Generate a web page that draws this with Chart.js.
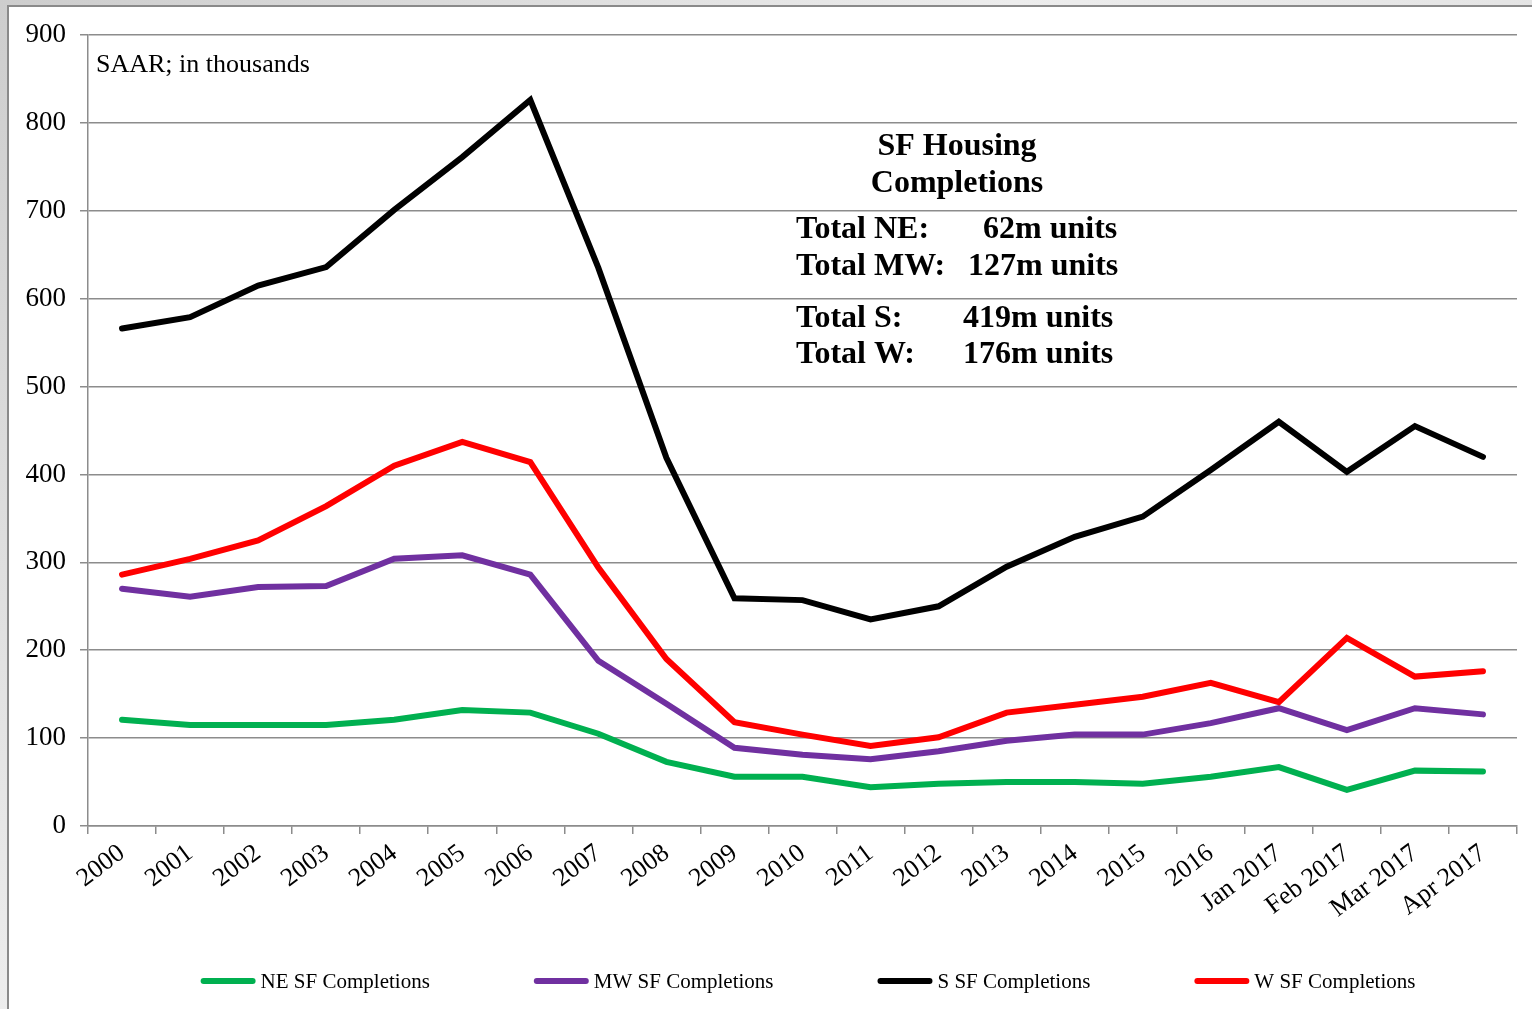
<!DOCTYPE html>
<html>
<head>
<meta charset="utf-8">
<script src="https://cdn.jsdelivr.net/npm/chart.js@4.4.0/dist/chart.umd.min.js"></script>
<style>
  html, body { margin: 0; padding: 0; }
  body {
    width: 1532px;
    height: 1009px;
    position: relative;
    overflow: hidden;
    background: linear-gradient(135deg, #cdcdcd, #ededed 40%, #d4d4d4);
  }
  #panel {
    position: absolute;
    left: 7px;
    top: 5px;
    right: 0;
    bottom: 0;
    background: #fff;
    border-left: 2px solid #8a8a8a;
    border-top: 2px solid #8a8a8a;
  }
  #chart { position: absolute; left: 0; top: 0; }
</style>
</head>
<body>
<div id="panel"></div>
<canvas id="chart" width="1532" height="1009"></canvas>
<script>
const categories = [
  "2000", "2001", "2002", "2003", "2004", "2005", "2006", "2007", "2008",
  "2009", "2010", "2011", "2012", "2013", "2014", "2015", "2016",
  "Jan 2017", "Feb 2017", "Mar 2017", "Apr 2017",
];

const neValues = [121, 115, 115, 115, 121, 132, 129, 105, 73, 56, 56, 44, 48, 50, 50, 48, 56, 67, 41, 63, 62];
const mwValues = [270, 261, 272, 273, 304, 308, 286, 188, 139, 89, 81, 76, 85, 97, 104, 104, 117, 134, 109, 134, 127];
const sValues = [566, 579, 615, 636, 701, 761, 826, 635, 419, 259, 257, 235, 250, 295, 329, 352, 405, 460, 403, 455, 420];
const wValues = [286, 304, 325, 364, 410, 437, 414, 294, 190, 118, 104, 91, 101, 129, 138, 147, 163, 141, 214, 170, 176];

const seriesNames = ["NE SF Completions", "MW SF Completions", "S SF Completions", "W SF Completions"];
const seriesColors = ["#00b050", "#7030a0", "#000000", "#ff0000"];

const yMin = 0;
const yMax = 900;
const yStep = 100;

const unitNote = "SAAR; in thousands";
const boxTitle = ["SF Housing", "Completions"];
const totalLabels = ["Total NE:", "Total MW:", "Total S:", "Total W:"];
const totalValues = ["62m units", "127m units", "419m units", "176m units"];

const serif = '"Liberation Serif", "Times New Roman", serif';
const gridGray = "#8c8c8c";

// text box and unit note drawn on top of the chart
const notesPlugin = {
  id: "notes",
  afterDraw(chart) {
    const ctx = chart.ctx;
    ctx.save();
    ctx.fillStyle = "#000";
    ctx.textBaseline = "alphabetic";

    ctx.font = "26px " + serif;
    ctx.textAlign = "left";
    ctx.fillText(unitNote, 96, 72);

    ctx.font = "bold 32px " + serif;
    ctx.textAlign = "center";
    ctx.fillText(boxTitle[0], 957, 155);
    ctx.fillText(boxTitle[1], 957, 192);

    ctx.textAlign = "left";
    const rowY = [238, 275, 327, 363];
    const valueX = [983, 968, 963, 963];
    totalLabels.forEach((label, i) => {
      ctx.fillText(label, 796, rowY[i]);
      ctx.fillText(totalValues[i], valueX[i], rowY[i]);
    });
    ctx.restore();
  },
};

// legend row under the axis, spaced like the original
const legendPlugin = {
  id: "legendRow",
  afterDraw(chart) {
    const ctx = chart.ctx;
    const lineLen = 55;
    const textGap = 5;
    const itemGap = 104;
    const y = 981;
    ctx.save();
    ctx.font = "21px " + serif;
    ctx.textBaseline = "middle";
    ctx.textAlign = "left";

    const sets = chart.data.datasets;
    const widths = sets.map((ds) => lineLen + textGap + ctx.measureText(ds.label).width);
    const total = widths.reduce((a, b) => a + b, 0) + itemGap * (sets.length - 1);
    let x = 808 - total / 2;

    sets.forEach((ds, i) => {
      ctx.strokeStyle = ds.borderColor;
      ctx.lineWidth = ds.borderWidth;
      ctx.lineCap = "round";
      ctx.beginPath();
      ctx.moveTo(x + 3, y);
      ctx.lineTo(x + lineLen - 3, y);
      ctx.stroke();
      ctx.fillStyle = "#000";
      ctx.fillText(ds.label, x + lineLen + textGap, y + 1);
      x += widths[i] + itemGap;
    });
    ctx.restore();
  },
};

function makeDataset(i, values, order) {
  return {
    label: seriesNames[i],
    data: values,
    borderColor: seriesColors[i],
    backgroundColor: seriesColors[i],
    borderWidth: 6,
    borderCapStyle: "round",
    borderJoinStyle: "miter",
    pointRadius: 0,
    pointHoverRadius: 0,
    tension: 0,
    fill: false,
    order: order,
  };
}

const ctx = document.getElementById("chart").getContext("2d");
const chart = new Chart(ctx, {
  type: "line",
  data: {
    labels: categories,
    datasets: [
      makeDataset(0, neValues, 4),
      makeDataset(1, mwValues, 3),
      makeDataset(2, sValues, 2),
      makeDataset(3, wValues, 1),
    ],
  },
  options: {
    responsive: false,
    animation: false,
    layout: {
      padding: { top: 35, right: 15, bottom: 0, left: 0 },
    },
    plugins: {
      tooltip: { enabled: false },
      legend: { display: false },
    },
    scales: {
      x: {
        offset: true,
        grid: {
          offset: true,
          drawOnChartArea: false,
          drawTicks: true,
          tickLength: 8,
          color: gridGray,
          lineWidth: 1.5,
        },
        border: { color: gridGray, width: 1.5 },
        ticks: {
          autoSkip: false,
          minRotation: 37,
          maxRotation: 37,
          padding: 4,
          color: "#000",
          font: { family: serif, size: 26 },
        },
        afterFit: (scale) => {
          scale.height = 183;
        },
      },
      y: {
        min: yMin,
        max: yMax,
        grid: {
          color: gridGray,
          lineWidth: 1.5,
          tickLength: 8,
        },
        border: { color: gridGray, width: 1.5 },
        ticks: {
          stepSize: yStep,
          padding: 14,
          color: "#000",
          font: { family: serif, size: 27 },
        },
        afterFit: (scale) => {
          scale.width = 88;
        },
      },
    },
  },
  plugins: [notesPlugin, legendPlugin],
});
</script>
</body>
</html>
